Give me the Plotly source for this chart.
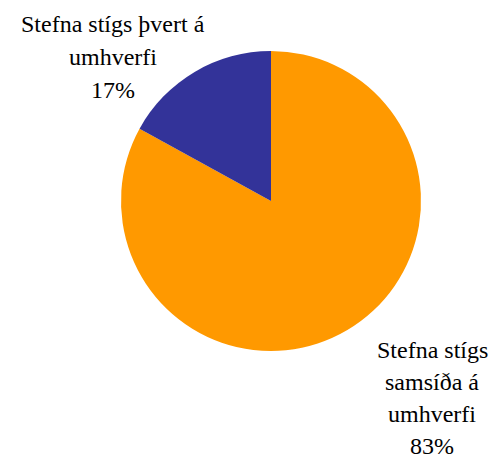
import plotly.graph_objects as go

labels = ["Stefna stígs samsíða á umhverfi", "Stefna stígs þvert á umhverfi"]
values = [83, 17]
colors = ["#FF9900", "#333399"]
label_lines = [["Stefna stígs", "samsíða á", "umhverfi"], ["Stefna stígs þvert á", "umhverfi"]]

OFF = 8  # page body margin
W, H = 497 - 2 * OFF, 472 - 2 * OFF


def px(x):
    return (x - OFF) / W


def py(y):
    return 1 - (y - OFF) / H


fig = go.Figure(go.Pie(
    labels=labels, values=values, sort=False, direction="clockwise", rotation=0,
    marker=dict(colors=colors, line=dict(width=0)),
    textinfo="none", hoverinfo="label+percent", showlegend=False,
    domain=dict(x=[px(121), px(421)], y=[py(351), py(51)]),
))

font = dict(family="Liberation Serif, Times New Roman, serif", size=24, color="#000000")
total = sum(values)
positions = [(432, 350, 32), (113, 24, 33)]
annotations = []
for lines, v, (cx, y0, dy) in zip(label_lines, values, positions):
    all_lines = lines + [f"{round(100 * v / total)}%"]
    for i, t in enumerate(all_lines):
        annotations.append(dict(
            text=t, x=px(cx), y=py(y0 + i * dy), xref="paper", yref="paper",
            showarrow=False, xanchor="center", yanchor="middle", font=font,
        ))

fig.update_layout(
    width=W, height=H, margin=dict(l=0, r=0, t=0, b=0),
    paper_bgcolor="white", plot_bgcolor="white", annotations=annotations,
)
fig.write_html("out.html")
